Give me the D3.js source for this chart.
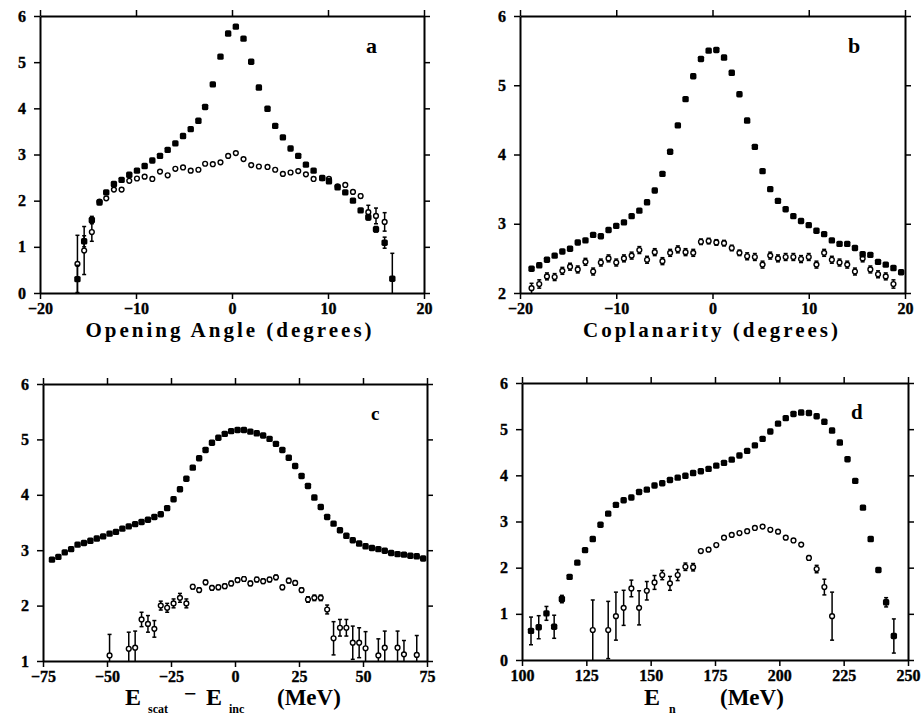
<!DOCTYPE html>
<html>
<head>
<meta charset="utf-8">
<script src="https://cdn.jsdelivr.net/npm/d3@7"></script>
<style>
  body { margin: 0; background: #fff; }
  svg { display: block; }
  .axis text { font-family: "Liberation Serif", "DejaVu Serif", serif; font-weight: bold; font-size: 16px; fill: #000; stroke: #000; stroke-width: 0.35; }
  .axis path, .axis line { stroke: #000; }
  .axis path { stroke-width: 2; }
  .axis line { stroke-width: 1.5; }
  .lbl { font-family: "Liberation Serif", "DejaVu Serif", serif; font-weight: bold; fill: #000; }
</style>
</head>
<body>
<svg id="chart_svg" width="923" height="716"></svg>
<script>
// panel a: opening angle
var aX = [-16.1,-15.4,-14.6,-13.8,-13.1,-12.3,-11.5,-10.7,-9.9,-9.1,-8.3,-7.5,-6.7,-5.9,-5.1,-4.3,-3.5,-2.8,-2.0,-1.2,-0.4,0.4,1.2,2.0,2.8,3.7,4.5,5.3,6.1,6.9,7.7,8.5,9.4,10.1,11.0,11.8,12.6,13.4,14.2,15.0,15.9,16.7];
var aFilled = [0.30,1.12,1.58,1.96,2.18,2.36,2.45,2.56,2.65,2.75,2.87,2.97,3.10,3.24,3.40,3.55,3.73,4.03,4.52,5.12,5.62,5.77,5.51,5.01,4.45,3.99,3.62,3.37,3.13,2.97,2.78,2.65,2.49,2.42,2.29,2.18,2.00,1.79,1.64,1.38,1.09,0.31];
var aFilledErr = [0.30,0.12,0.08,0,0,0,0,0,0,0,0,0,0,0,0,0,0,0,0,0,0,0,0,0,0,0,0,0,0,0,0,0,0,0,0,0,0,0,0.06,0.06,0.12,0.55];
var aOpen = [0.63,0.92,1.32,1.98,2.05,2.24,2.24,2.43,2.48,2.52,2.47,2.63,2.55,2.69,2.72,2.65,2.67,2.80,2.79,2.83,2.97,3.03,2.90,2.77,2.74,2.73,2.67,2.58,2.61,2.64,2.57,2.47,2.49,2.47,2.31,2.34,2.19,2.10,1.75,1.67,1.54,null];
var aOpenErr = [0.62,0.52,0.2,0,0,0,0,0,0,0,0,0,0,0,0,0,0,0,0,0,0,0,0,0,0,0,0,0,0,0,0,0,0,0,0,0,0,0.04,0.15,0.17,0.2,0];

// panel b: coplanarity
var bX = [-18.8,-18.0,-17.2,-16.4,-15.6,-14.8,-14.0,-13.2,-12.4,-11.6,-10.8,-10.0,-9.2,-8.4,-7.6,-6.8,-6.0,-5.2,-4.4,-3.6,-2.8,-2.0,-1.2,-0.4,0.4,1.2,2.0,2.8,3.6,4.4,5.2,6.0,6.8,7.6,8.4,9.2,10.0,10.8,11.6,12.4,13.2,14.0,14.8,15.6,16.4,17.2,18.0,18.8,19.6];
var bFilled = [2.35,2.40,2.48,2.54,2.60,2.64,2.73,2.76,2.84,2.82,2.91,2.97,3.02,3.11,3.19,3.31,3.48,3.72,4.04,4.42,4.80,5.13,5.38,5.50,5.51,5.40,5.18,4.87,4.49,4.11,3.76,3.50,3.33,3.21,3.11,3.04,2.98,2.90,2.85,2.76,2.71,2.71,2.65,2.56,2.55,2.45,2.41,2.36,2.30];
var bOpen = [2.07,2.13,2.24,2.23,2.32,2.38,2.34,2.45,2.31,2.44,2.50,2.44,2.50,2.54,2.62,2.48,2.59,2.46,2.58,2.63,2.59,2.58,2.74,2.75,2.73,2.72,2.65,2.58,2.53,2.52,2.41,2.54,2.50,2.52,2.52,2.49,2.52,2.41,2.58,2.48,2.44,2.41,2.31,2.50,2.34,2.27,2.24,2.13,null];
var bOpenErr = [0.07,0.06,0.05,0.05,0.05,0.05,0.05,0.05,0.05,0.05,0.05,0.05,0.05,0.05,0.05,0.05,0.05,0.05,0.05,0.05,0.05,0.05,0.04,0.04,0.04,0.04,0.04,0.04,0.05,0.05,0.05,0.05,0.05,0.05,0.05,0.05,0.05,0.05,0.05,0.05,0.05,0.05,0.05,0.05,0.05,0.05,0.05,0.06,0];

// panel c: E_scat - E_inc
var cX = [-71.5,-69,-66.5,-64,-61.5,-59,-56.5,-54,-51.5,-49,-46.5,-44,-41.5,-39,-36.5,-34,-31.5,-29,-26.5,-24,-21.5,-19,-16.5,-14,-11.5,-9,-6.5,-4,-1.5,1,3.5,6,8.5,11,13.5,16,18.5,21,23.5,26,28.5,31,33.5,36,38.5,41,43.5,46,48.5,51,53.5,56,58.5,61,63.5,66,68.5,71,73.5];
var cFilled = [2.83,2.88,2.96,3.02,3.10,3.13,3.17,3.21,3.25,3.30,3.33,3.39,3.43,3.47,3.51,3.55,3.60,3.65,3.76,3.92,4.10,4.29,4.49,4.66,4.81,4.94,5.03,5.10,5.15,5.17,5.17,5.14,5.11,5.07,5.01,4.92,4.81,4.67,4.52,4.34,4.16,3.95,3.78,3.60,3.48,3.36,3.26,3.18,3.12,3.07,3.04,3.02,2.99,2.95,2.93,2.92,2.90,2.89,2.85];
var cOpen = [null,null,null,null,null,null,null,null,null,1.10,null,null,1.22,1.24,1.75,1.67,1.58,2.00,1.96,2.04,2.14,2.04,2.34,2.28,2.42,2.32,2.33,2.35,2.40,2.46,2.48,2.40,2.47,2.44,2.47,2.51,2.33,2.45,2.41,2.28,2.11,2.14,2.14,1.93,1.41,1.60,1.60,1.33,1.33,1.23,null,1.10,1.24,null,1.24,1.12,null,1.11,null];
var cOpenErr = [0,0,0,0,0,0,0,0,0,0.38,0,0,0.3,0.3,0.13,0.15,0.15,0.08,0.08,0.08,0.08,0.08,0.04,0.04,0.04,0.04,0.04,0.04,0.04,0.04,0.04,0.04,0.04,0.04,0.04,0.04,0.04,0.04,0.04,0.04,0.05,0.05,0.05,0.08,0.3,0.15,0.15,0.3,0.27,0.3,0,0.3,0.3,0,0.3,0.25,0,0.35,0];

// panel d: E_n
var dX = [103.5,106.5,109.5,112.5,115.5,118.5,121.5,124.5,127.5,130.5,133.5,136.5,139.5,142.5,145.5,148.5,151.5,154.5,157.5,160.5,163.5,166.5,169.5,172.5,175.5,178.5,181.5,184.5,187.5,190.5,193.5,196.5,199.5,202.5,205.5,208.5,211.5,214.5,217.5,220.5,223.5,226.5,229.5,232.5,235.5,238.5,241.5,244.5];
var dFilled = [0.63,0.71,1.01,0.72,1.32,1.80,2.11,2.38,2.62,2.93,3.17,3.36,3.46,3.52,3.64,3.69,3.78,3.83,3.90,3.95,3.99,4.05,4.09,4.14,4.21,4.27,4.34,4.43,4.53,4.65,4.79,4.95,5.12,5.24,5.33,5.36,5.35,5.28,5.16,4.97,4.71,4.35,3.88,3.30,2.62,1.95,1.25,0.52];
var dFilledErr = [0.3,0.25,0.15,0.25,0.08,0,0,0,0,0,0,0,0,0,0,0,0,0,0,0,0,0,0,0,0,0,0,0,0,0,0,0,0,0,0,0,0,0,0,0,0,0,0,0,0,0,0.1,0.37];
var dOpen = [null,null,null,null,null,null,null,null,0.65,null,0.65,0.95,1.13,1.55,1.13,1.50,1.68,1.84,1.66,1.84,2.02,2.01,2.36,2.39,2.49,2.65,2.71,2.75,2.79,2.86,2.89,2.82,2.78,2.65,2.59,2.50,2.21,1.97,1.58,0.95,null,null,null,null,null,null,null,null];
var dOpenErr = [0,0,0,0,0,0,0,0,0.65,0,0.62,0.52,0.38,0.18,0.37,0.2,0.15,0.1,0.15,0.12,0.08,0.08,0,0,0,0,0,0,0,0,0,0,0,0,0,0,0.05,0.08,0.17,0.52,0,0,0,0,0,0,0,0];

var svg = d3.select("#chart_svg");

function drawPanel(p) {
  var x = d3.scaleLinear().domain(p.xDomain).range([p.left, p.right]);
  var y = d3.scaleLinear().domain(p.yDomain).range([p.bottom, p.top]);
  var g = svg.append("g");

  g.append("g").attr("class", "axis").attr("transform", "translate(0," + p.bottom + ")")
    .call(d3.axisBottom(x).tickValues(p.xTicks).tickSize(6).tickPadding(p.xPad).tickSizeOuter(0));
  g.append("g").attr("class", "axis").attr("transform", "translate(0," + p.top + ")")
    .call(d3.axisTop(x).tickValues(p.xTicks).tickSize(6).tickFormat("").tickSizeOuter(0));
  g.append("g").attr("class", "axis").attr("transform", "translate(" + p.left + ",0)")
    .call(d3.axisLeft(y).tickValues(p.yTicks).tickSize(6).tickPadding(8).tickSizeOuter(0).tickFormat(d3.format("d")));
  g.append("g").attr("class", "axis").attr("transform", "translate(" + p.right + ",0)")
    .call(d3.axisRight(y).tickValues(p.yTicks).tickSize(6).tickFormat("").tickSizeOuter(0));

  var ymin = p.yDomain[0];
  function drawSeries(xs, vals, errs, filled) {
    var pts = [];
    xs.forEach(function (xv, i) {
      if (vals[i] != null) pts.push({ x: xv, v: vals[i], e: errs ? errs[i] : 0 });
    });
    var eb = g.append("g").attr("stroke", "#000").attr("stroke-width", 1.5);
    pts.filter(function (d) { return d.e > 0; }).forEach(function (d) {
      var lo = Math.max(ymin, d.v - d.e), hi = d.v + d.e;
      eb.append("line").attr("x1", x(d.x)).attr("x2", x(d.x)).attr("y1", y(lo)).attr("y2", y(hi));
      eb.append("line").attr("x1", x(d.x) - 2).attr("x2", x(d.x) + 2).attr("y1", y(hi)).attr("y2", y(hi));
      if (d.v - d.e > ymin) {
        eb.append("line").attr("x1", x(d.x) - 2).attr("x2", x(d.x) + 2).attr("y1", y(lo)).attr("y2", y(lo));
      }
    });
    if (filled) {
      g.append("g").selectAll("rect").data(pts).enter().append("rect")
        .attr("x", function (d) { return x(d.x) - 3.2; })
        .attr("y", function (d) { return y(d.v) - 3.2; })
        .attr("width", 6.4).attr("height", 6.4).attr("rx", 1.6)
        .attr("fill", "#000");
    } else {
      g.append("g").selectAll("circle").data(pts).enter().append("circle")
        .attr("cx", function (d) { return x(d.x); })
        .attr("cy", function (d) { return y(d.v); })
        .attr("r", 2.4)
        .attr("fill", "#fff").attr("stroke", "#000").attr("stroke-width", 1.4);
    }
  }
  drawSeries(p.xs, p.open, p.openErr, false);
  drawSeries(p.xs, p.filled, p.filledErr, true);

  g.append("text").attr("class", "lbl").attr("x", p.letterX).attr("y", p.letterY)
    .attr("font-size", p.letterSize).text(p.letter);
}

drawPanel({ xDomain: [-20, 20], yDomain: [0, 6], left: 40, right: 424, top: 16, bottom: 293,
  xTicks: [-20, -10, 0, 10, 20], yTicks: [0, 1, 2, 3, 4, 5, 6], xPad: 4,
  xs: aX, filled: aFilled, filledErr: aFilledErr, open: aOpen, openErr: aOpenErr,
  letter: "a", letterX: 366, letterY: 53, letterSize: 22 });

drawPanel({ xDomain: [-20, 20], yDomain: [2, 6], left: 520, right: 905, top: 16, bottom: 293,
  xTicks: [-20, -10, 0, 10, 20], yTicks: [2, 3, 4, 5, 6], xPad: 4,
  xs: bX, filled: bFilled, filledErr: null, open: bOpen, openErr: bOpenErr,
  letter: "b", letterX: 848, letterY: 53, letterSize: 22 });

drawPanel({ xDomain: [-75, 75], yDomain: [1, 6], left: 43, right: 427, top: 384, bottom: 661,
  xTicks: [-75, -50, -25, 0, 25, 50, 75], yTicks: [1, 2, 3, 4, 5, 6], xPad: 4,
  xs: cX, filled: cFilled, filledErr: null, open: cOpen, openErr: cOpenErr,
  letter: "c", letterX: 371, letterY: 420, letterSize: 19 });

drawPanel({ xDomain: [100, 250], yDomain: [0, 6], left: 522, right: 908, top: 383, bottom: 660,
  xTicks: [100, 125, 150, 175, 200, 225, 250], yTicks: [0, 1, 2, 3, 4, 5, 6], xPad: 4,
  xs: dX, filled: dFilled, filledErr: dFilledErr, open: dOpen, openErr: dOpenErr,
  letter: "d", letterX: 851, letterY: 419, letterSize: 21 });

// axis titles
svg.append("text").attr("class", "lbl").attr("x", 230).attr("y", 337).attr("text-anchor", "middle")
  .attr("font-size", 21).attr("letter-spacing", 3).text("Opening Angle (degrees)");
svg.append("text").attr("class", "lbl").attr("x", 712).attr("y", 337).attr("text-anchor", "middle")
  .attr("font-size", 21).attr("letter-spacing", 3).text("Coplanarity (degrees)");

svg.append("text").attr("class", "lbl").attr("x", 125).attr("y", 705).attr("font-size", 24).text("E");
svg.append("text").attr("class", "lbl").attr("x", 148).attr("y", 713).attr("font-size", 12).text("scat");
svg.append("text").attr("class", "lbl").attr("x", 184).attr("y", 701).attr("font-size", 22).text("−");
svg.append("text").attr("class", "lbl").attr("x", 206).attr("y", 705).attr("font-size", 24).text("E");
svg.append("text").attr("class", "lbl").attr("x", 229).attr("y", 713).attr("font-size", 12).text("inc");
svg.append("text").attr("class", "lbl").attr("x", 277).attr("y", 705).attr("font-size", 23).text("(MeV)");

svg.append("text").attr("class", "lbl").attr("x", 644).attr("y", 705).attr("font-size", 24).text("E");
svg.append("text").attr("class", "lbl").attr("x", 669).attr("y", 713).attr("font-size", 12).text("n");
svg.append("text").attr("class", "lbl").attr("x", 720).attr("y", 705).attr("font-size", 23).text("(MeV)");
</script>
</body>
</html>
